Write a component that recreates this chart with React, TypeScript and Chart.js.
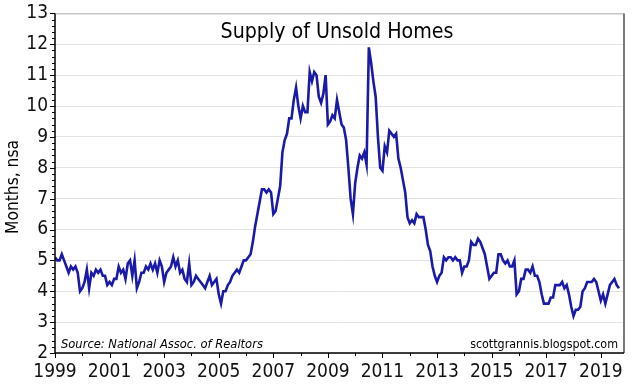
import React, { useEffect, useRef } from "react";
import { Chart, registerables } from "chart.js";

Chart.register(...registerables);

// Months' supply of existing homes (nsa), monthly, Jan 1999 onward
const startYear = 1999;
const y1999 = [5.1, 5.0, 5.0, 5.2, 5.0, 4.8, 4.6, 4.8, 4.7, 4.8, 4.6, 4.0];
const y2000 = [4.1, 4.3, 4.7, 4.1, 4.6, 4.5, 4.7, 4.6, 4.7, 4.5, 4.5, 4.2];
const y2001 = [4.3, 4.2, 4.4, 4.4, 4.8, 4.6, 4.7, 4.4, 4.9, 5.0, 4.5, 5.0];
const y2002 = [4.1, 4.3, 4.6, 4.6, 4.8, 4.7, 4.9, 4.7, 4.9, 4.6, 5.0, 4.8];
const y2003 = [4.3, 4.6, 4.7, 4.8, 5.1, 4.8, 5.0, 4.6, 4.7, 4.4, 4.3, 4.9];
const y2004 = [4.2, 4.3, 4.5, 4.4, 4.3, 4.2, 4.1, 4.3, 4.5, 4.2, 4.3, 4.4];
const y2005 = [3.9, 3.6, 4.0, 4.0, 4.2, 4.3, 4.5, 4.6, 4.7, 4.6, 4.8, 5.0];
const y2006 = [5.0, 5.1, 5.2, 5.6, 6.1, 6.5, 6.9, 7.3, 7.3, 7.2, 7.3, 7.2];
const y2007 = [6.5, 6.6, 7.0, 7.4, 8.5, 8.9, 9.1, 9.6, 9.6, 10.2, 10.6, 10.0];
const y2008 = [9.6, 10.0, 9.8, 9.8, 11.1, 10.8, 11.1, 11.0, 10.3, 10.1, 10.4, 11.0];
const y2009 = [9.4, 9.5, 9.7, 9.6, 10.2, 9.8, 9.4, 9.3, 8.9, 8.0, 7.0, 6.5];
const y2010 = [7.5, 8.0, 8.4, 8.3, 8.5, 8.1, 11.9, 11.4, 10.8, 10.3, 9.0, 8.0];
const y2011 = [7.9, 8.7, 8.5, 9.2, 9.1, 9.0, 9.1, 8.3, 8.0, 7.6, 7.2, 6.4];
const y2012 = [6.2, 6.3, 6.2, 6.5, 6.4, 6.4, 6.4, 6.0, 5.5, 5.3, 4.8, 4.5];
const y2013 = [4.3, 4.5, 4.6, 5.1, 5.0, 5.1, 5.1, 5.0, 5.1, 5.0, 5.0, 4.6];
const y2014 = [4.8, 4.8, 5.0, 5.6, 5.5, 5.5, 5.7, 5.6, 5.4, 5.2, 4.8, 4.4];
const y2015 = [4.5, 4.6, 4.6, 5.2, 5.2, 5.0, 4.9, 5.0, 4.8, 4.8, 5.0, 3.9];
const y2016 = [4.0, 4.4, 4.4, 4.7, 4.7, 4.6, 4.8, 4.5, 4.5, 4.3, 3.9, 3.6];
const y2017 = [3.6, 3.6, 3.8, 3.8, 4.2, 4.2, 4.2, 4.3, 4.1, 4.2, 3.9, 3.5];
const y2018 = [3.2, 3.4, 3.4, 3.5, 4.0, 4.1, 4.3, 4.3, 4.3, 4.4, 4.3, 4.0];
const y2019 = [3.7, 3.9, 3.6, 3.9, 4.2, 4.3, 4.4, 4.2, 4.1];

const supply = [
  ...y1999, ...y2000, ...y2001, ...y2002, ...y2003, ...y2004, ...y2005,
  ...y2006, ...y2007, ...y2008, ...y2009, ...y2010, ...y2011, ...y2012,
  ...y2013, ...y2014, ...y2015, ...y2016, ...y2017, ...y2018, ...y2019,
];

const xTickYears = [1999, 2001, 2003, 2005, 2007, 2009, 2011, 2013, 2015, 2017, 2019];
const yMin = 2;
const yMax = 13;
const xMaxMonths = 250.2;

const titleText = "Supply of Unsold Homes";
const yTitleText = "Months, nsa";
const sourceText = "Source: National Assoc. of Realtors";
const siteText = "scottgrannis.blogspot.com";

const FONT = "'DejaVu Sans Condensed', 'DejaVu Sans', sans-serif";

function fitText(ctx: CanvasRenderingContext2D, text: string, style: string, base: number, target: number) {
  ctx.font = `${style} ${base}px ${FONT}`;
  const w = ctx.measureText(text).width;
  const size = Math.max(8, Math.min(base * 1.4, (base * target) / w));
  ctx.font = `${style} ${size.toFixed(2)}px ${FONT}`;
}

export default function App() {
  const ref = useRef<HTMLCanvasElement>(null);

  useEffect(() => {
    document.body.style.margin = "0";
    const canvas = ref.current;
    if (!canvas) return;
    const points = supply.map((v, i) => ({ x: i, y: v }));

    const overlay = {
      id: "overlay",
      beforeDraw(chart: any) {
        const { ctx } = chart;
        ctx.save();
        ctx.fillStyle = "#ffffff";
        ctx.fillRect(0, 0, chart.width, chart.height);
        ctx.restore();
      },
      afterDraw(chart: any) {
        const { ctx, chartArea } = chart;
        const { left, top, right, bottom } = chartArea;
        const xs = chart.scales.x;
        const ys = chart.scales.y;
        ctx.save();
        // frame
        ctx.strokeStyle = "#b5b5b5";
        ctx.lineWidth = 1;
        ctx.beginPath();
        ctx.moveTo(left, top + 0.5);
        ctx.lineTo(right, top + 0.5);
        ctx.stroke();
        ctx.strokeStyle = "#7a7a7a";
        ctx.lineWidth = 2;
        ctx.beginPath();
        ctx.moveTo(right, top);
        ctx.lineTo(right, bottom);
        ctx.stroke();
        // axes
        ctx.strokeStyle = "#000";
        ctx.lineWidth = 1.5;
        ctx.beginPath();
        ctx.moveTo(left, top);
        ctx.lineTo(left, bottom);
        ctx.lineTo(right, bottom);
        ctx.stroke();
        // y minor ticks
        ctx.lineWidth = 1;
        for (let v = yMin; v <= yMax + 1e-6; v += 0.2) {
          const y = Math.round(ys.getPixelForValue(v)) + 0.5;
          const major = Math.abs(v - Math.round(v)) < 1e-6;
          ctx.beginPath();
          ctx.moveTo(left - (major ? 5 : 3), y);
          ctx.lineTo(left, y);
          ctx.stroke();
        }
        // x minor ticks (yearly)
        for (let m = 0; m <= xMaxMonths; m += 12) {
          const x = Math.round(xs.getPixelForValue(m)) + 0.5;
          const major = (m / 12) % 2 === 0;
          ctx.beginPath();
          ctx.moveTo(x, bottom);
          ctx.lineTo(x, bottom + (major ? 5 : 3));
          ctx.stroke();
        }
        // title
        ctx.fillStyle = "#000";
        ctx.textAlign = "center";
        ctx.textBaseline = "alphabetic";
        fitText(ctx, titleText, "normal", 21, 233);
        ctx.fillText(titleText, 337, 38);
        // notes
        ctx.textAlign = "left";
        fitText(ctx, sourceText, "italic", 15, 202);
        ctx.fillText(sourceText, 61, 348);
        ctx.textAlign = "right";
        fitText(ctx, siteText, "normal", 15, 148);
        ctx.fillText(siteText, 618, 348);
        // y title
        ctx.save();
        ctx.translate(18, 187);
        ctx.rotate(-Math.PI / 2);
        ctx.textAlign = "center";
        fitText(ctx, yTitleText, "normal", 18, 94);
        ctx.fillText(yTitleText, 0, 0);
        ctx.restore();
        ctx.restore();
      },
    };

    const chart = new Chart(canvas, {
      type: "line",
      data: {
        datasets: [
          {
            data: points,
            borderColor: "#1a1aa8",
            borderWidth: 2.6,
            pointRadius: 0,
            tension: 0,
            fill: false,
          },
        ],
      },
      options: {
        animation: false,
        responsive: false,
        devicePixelRatio: 1,
        parsing: false,
        layout: { padding: { left: 8, top: 13, right: 16, bottom: 0 } },
        plugins: { legend: { display: false }, tooltip: { enabled: false }, title: { display: false } },
        scales: {
          x: {
            type: "linear",
            min: 0,
            max: xMaxMonths,
            afterBuildTicks: (scale: any) => {
              scale.ticks = xTickYears.map((yr) => ({ value: (yr - startYear) * 12 }));
            },
            afterFit: (scale: any) => {
              scale.height = 35;
            },
            ticks: {
              autoSkip: false,
              maxRotation: 0,
              padding: 3,
              color: "#111",
              font: { family: FONT, size: 19 },
              callback: (v: any) => String(startYear + Math.round(Number(v) / 12)),
            },
            grid: { display: true, drawOnChartArea: false, drawTicks: true, tickLength: 5, color: "rgba(0,0,0,0)" },
            border: { display: false },
          },
          y: {
            min: yMin,
            max: yMax,
            afterFit: (scale: any) => {
              scale.width = 47;
            },
            ticks: {
              stepSize: 1,
              padding: 2,
              color: "#111",
              font: { family: FONT, size: 19 },
            },
            grid: { color: "#e3e3e3", lineWidth: 1, drawTicks: true, tickLength: 5, tickColor: "rgba(0,0,0,0)" },
            border: { display: false },
          },
        },
      },
      plugins: [overlay],
    });
    return () => chart.destroy();
  }, []);

  return (
    <div style={{ position: "absolute", left: 0, top: 0, width: 640, height: 388 }}>
      <canvas ref={ref} width={640} height={388} />
    </div>
  );
}
